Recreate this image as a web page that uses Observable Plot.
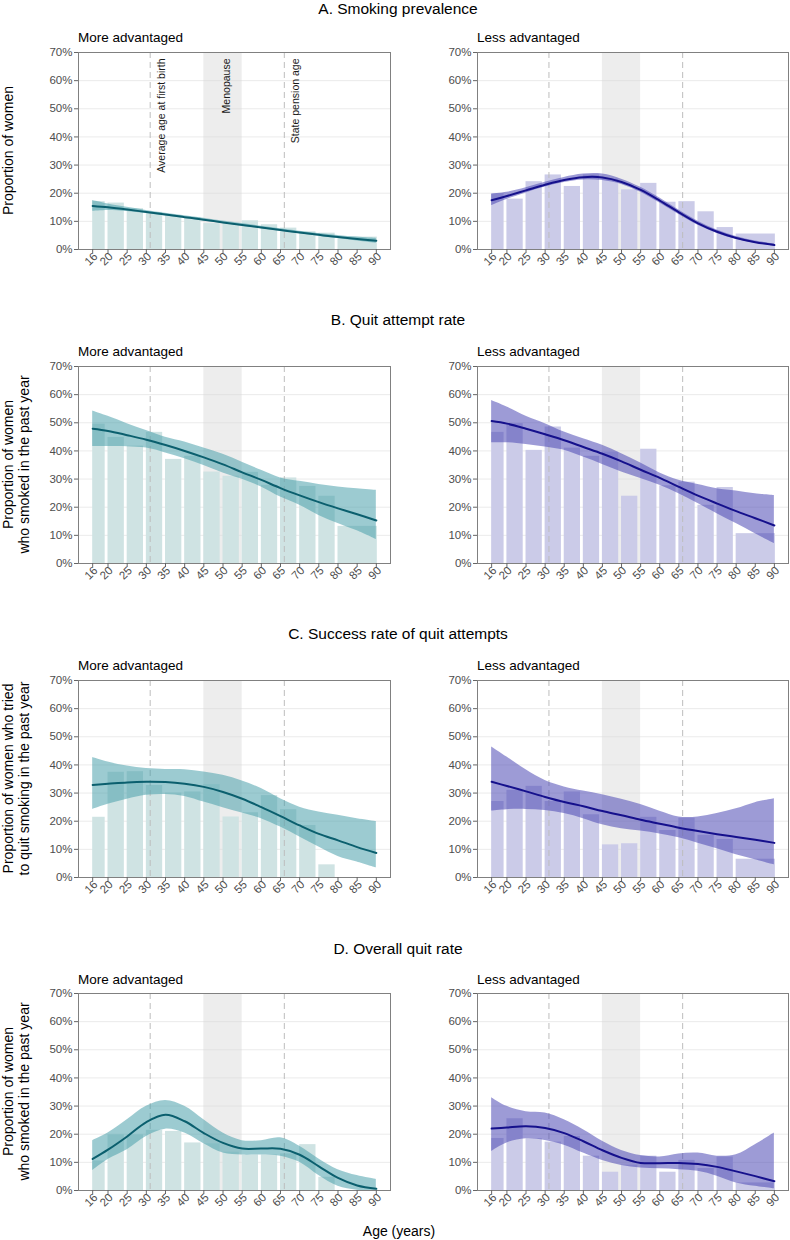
<!DOCTYPE html>
<html><head><meta charset="utf-8">
<script src="https://cdn.jsdelivr.net/npm/d3@7"></script>
<script src="https://cdn.jsdelivr.net/npm/@observablehq/plot@0.6"></script>
<style>
body{margin:0;background:#fff;}
#root{position:relative;width:790px;height:1240px;overflow:hidden;font-family:"Liberation Sans",Arial,sans-serif;}
.panel{position:absolute;}
#overlay{position:absolute;left:0;top:0;pointer-events:none;}
</style></head><body><div id="root"></div>
<script>
// ---------- categories / ticks ----------
const ages = [16,20,25,30,35,40,45,50,55,60,65,70,75,80,85,90];
const ageLo = [16,20,25,30,35,40,45,50,55,60,65,70,75,80];
const ageHi = [19,24,29,34,39,44,49,54,59,64,69,74,79,90];
const yTicks = [0,10,20,30,40,50,60,70];
const keyAges = [31,66];
const keyLabels = ["Average age at first birth","State pension age"];
const menopause = [45,55];
const menopauseLabel = "Menopause";
const groups = ["More advantaged","Less advantaged"];
const panelTitles = ["A. Smoking prevalence","B. Quit attempt rate","C. Success rate of quit attempts","D. Overall quit rate"];
const yTitles = [["Proportion of women"],["Proportion of women","who smoked in the past year"],["Proportion of women who tried","to quit smoking in the past year"],["Proportion of women","who smoked in the past year"]];
const xTitle = "Age (years)";

// ---------- A. Smoking prevalence ----------
const prevMoreBar = [17.0,16.5,14.5,13.2,12.0,11.4,9.2,9.2,10.2,8.8,7.6,6.3,5.8,4.4];
const prevMoreFit = [15.5,15.0,14.2,13.3,12.4,11.5,10.6,9.6,8.7,7.8,6.9,6.0,5.2,4.4,3.7,3.1];
const prevMoreLo  = [13.6,13.9,13.5,12.8,11.9,11.0,10.1,9.2,8.3,7.4,6.5,5.6,4.7,3.9,3.0,2.2];
const prevMoreHi  = [17.4,16.2,15.0,13.9,12.9,12.0,11.1,10.1,9.2,8.3,7.4,6.5,5.7,5.0,4.4,3.9];
const prevLessBar = [19.9,17.9,24.1,26.5,22.4,26.5,25.0,21.2,23.5,16.8,17.0,13.4,7.8,5.5];
const prevLessFit = [17.5,19.0,21.0,23.0,24.7,25.7,25.6,24.0,21.2,17.4,13.2,9.3,6.3,4.1,2.6,1.6];
const prevLessLo  = [15.6,17.8,20.1,22.2,23.8,24.7,24.5,23.1,20.3,16.5,12.4,8.6,5.7,3.6,2.2,1.2];
const prevLessHi  = [19.6,20.3,21.9,23.9,25.6,26.8,26.8,25.0,22.1,18.3,14.0,10.0,6.9,4.6,3.0,2.0];

// ---------- B. Quit attempt rate ----------
const attMoreBar = [49.5,44.8,41.7,46.6,37.0,38.1,32.5,31.0,32.4,27.8,30.4,27.4,23.9,13.2];
const attMoreFit = [47.9,47.1,45.6,44.0,42.1,40.0,37.7,35.2,32.4,29.7,26.8,24.2,21.8,19.6,17.5,15.3];
const attMoreLo  = [41.6,41.6,41.5,41.0,39.3,37.2,34.8,32.2,29.9,27.2,23.6,20.7,17.1,14.2,11.6,8.5];
const attMoreHi  = [54.2,52.3,49.7,47.3,44.9,43.2,41.0,38.8,36.0,33.1,30.4,29.2,28.1,27.2,26.6,26.0];
const attLessBar = [46.6,49.7,40.2,48.5,41.0,38.1,39.6,23.9,40.6,27.6,28.9,20.7,27.0,10.6];
const attLessFit = [50.6,49.7,47.9,45.9,43.8,41.4,39.0,36.3,33.3,30.4,27.2,24.1,21.3,18.6,16.1,13.5];
const attLessLo  = [42.9,42.9,42.3,41.4,40.2,37.8,35.2,32.5,30.2,27.8,24.8,21.3,17.7,14.2,10.6,7.1];
const attLessHi  = [57.9,55.6,52.3,49.7,46.7,44.3,42.0,39.0,35.7,32.2,29.6,28.1,26.6,25.8,24.8,24.2];

// ---------- C. Success rate of quit attempts ----------
const sucMoreBar = [21.4,37.4,37.6,32.7,30.0,30.4,33.0,21.5,23.0,29.1,24.1,18.5,4.5,0];
const sucMoreFit = [32.9,33.3,33.8,34.0,33.9,33.3,32.2,30.4,28.0,25.0,21.8,18.5,15.5,13.2,10.8,8.7];
const sucMoreLo  = [24.2,26.0,27.8,29.2,29.5,28.8,26.8,24.8,22.9,20.9,17.9,14.4,10.8,7.5,5.5,3.4];
const sucMoreHi  = [42.6,41.0,39.6,38.7,38.4,38.3,37.5,36.3,34.3,31.6,28.0,25.0,23.3,22.1,20.9,19.9];
const sucLessBar = [27.0,31.0,32.4,27.0,30.4,22.3,11.6,12.0,21.4,16.7,21.1,15.0,13.5,6.5];
const sucLessFit = [34.0,32.5,30.6,28.6,26.8,25.3,23.6,22.1,20.5,19.1,17.7,16.5,15.4,14.4,13.4,12.3];
const sucLessLo  = [23.6,24.1,24.2,23.8,22.7,20.9,18.7,17.3,16.5,15.5,14.1,12.2,10.2,8.1,6.3,4.5];
const sucLessHi  = [46.4,42.8,38.3,34.5,32.2,30.7,29.4,27.8,25.9,23.5,21.5,21.5,22.7,24.4,26.6,28.0];

// ---------- D. Overall quit rate ----------
const quitMoreBar = [10.5,19.8,19.8,21.4,21.0,16.9,16.6,13.6,12.6,12.6,13.0,16.3,4.7,0];
const quitMoreFit = [11.2,14.5,19.2,24.3,26.9,24.6,20.4,16.9,14.9,14.9,14.8,12.7,8.6,4.5,1.8,0.6];
const quitMoreLo  = [7.1,11.0,14.5,19.2,21.8,20.4,16.6,13.3,12.6,12.6,12.2,10.0,5.3,1.5,0.1,0.0];
const quitMoreHi  = [17.7,20.4,25.1,29.9,32.0,29.9,25.1,20.4,17.7,17.7,18.7,15.7,11.2,7.4,5.3,3.9];
const quitLessBar = [18.5,25.5,18.4,17.2,19.2,12.2,6.5,9.0,12.2,6.5,10.7,7.8,11.9,2.7];
const quitLessFit = [22.0,22.4,22.8,22.2,20.4,17.5,14.3,11.6,9.8,9.7,9.8,9.4,8.4,6.8,5.1,3.3];
const quitLessLo  = [13.9,16.9,18.4,17.8,16.1,13.3,10.7,8.9,8.0,7.7,7.4,6.8,5.1,2.7,1.5,0.6];
const quitLessHi  = [33.0,29.9,28.0,27.5,25.1,21.6,17.5,14.2,12.4,11.9,13.0,13.3,12.2,12.7,16.3,20.4];

// ---------- styling ----------
const FONT = '"Liberation Sans", Arial, sans-serif';
const pal = {
  left:  {bar:"#cfe3e3", ribbon:"#489faa", line:"#0b5f6e"},
  right: {bar:"#cbcbe8", ribbon:"#4a46b3", line:"#15108c"}
};
const rows = [
  {more:[prevMoreBar,prevMoreFit,prevMoreLo,prevMoreHi], less:[prevLessBar,prevLessFit,prevLessLo,prevLessHi]},
  {more:[attMoreBar,attMoreFit,attMoreLo,attMoreHi], less:[attLessBar,attLessFit,attLessLo,attLessHi]},
  {more:[sucMoreBar,sucMoreFit,sucMoreLo,sucMoreHi], less:[sucLessBar,sucLessFit,sucLessLo,sucLessHi]},
  {more:[quitMoreBar,quitMoreFit,quitMoreLo,quitMoreHi], less:[quitLessBar,quitLessFit,quitLessLo,quitLessHi]}
];
const plotTop = [52, 366, 680, 993];
const PH = 197, MT = 6, MB = 34, W = 395;

function panel([bars, fit, lo, hi], side, notes) {
  const p = pal[side];
  const barData = ageLo.map((a,i)=>({lo:a, hi:ageHi[i], v:bars[i]}));
  const fitData = ages.map((a,i)=>({age:a, fit:fit[i], lo:lo[i], hi:hi[i]}));
  const marks = [
    Plot.gridY(yTicks, {stroke:"#ebebeb", strokeOpacity:1}),
    Plot.rect([menopause], {x1:d=>d[0], x2:d=>d[1], fill:"#d6d6d6", fillOpacity:0.45}),
    Plot.rect(barData, {x1:"lo", x2:"hi", y1:0, y2:"v", fill:p.bar, insetRight:-1}),
    Plot.ruleX(keyAges, {stroke:"#bdbdbd", strokeDasharray:"6,4"}),
    Plot.areaY(fitData, {x:"age", y1:"lo", y2:"hi", fill:p.ribbon, fillOpacity:0.54, curve:"catmull-rom"}),
    Plot.line(fitData, {x:"age", y:"fit", stroke:p.line, strokeWidth:2, curve:"catmull-rom"}),
    Plot.frame({stroke:"#808080"}),
    // tick marks
    Plot.axisX({ticks:ages, tickSize:4, tickFormat:()=>"", stroke:"#666", label:null}),
    // rotated tick labels
    Plot.axisX({ticks:ages, tickSize:0, tickPadding:5, tickRotate:-45, dx:3, tickFormat:d=>String(d), fill:"#4d4d4d", fontSize:11.5, label:null}),
    Plot.axisY({ticks:yTicks, tickSize:4, tickPadding:2, tickFormat:d=>d+"%", fill:"#4d4d4d", stroke:"#666", fontSize:11.5, label:null})
  ];
  if (notes) {
    const lineNotes = keyAges.map((a,i)=>({age:a, label:keyLabels[i]}));
    marks.push(Plot.text(lineNotes, {x:"age", text:"label", frameAnchor:"top", rotate:-90, textAnchor:"end", dx:7, dy:6, fill:"#1a1a1a", fontSize:10.5}));
    marks.push(Plot.text([{age:(menopause[0]+menopause[1])/2, label:menopauseLabel}], {x:"age", text:"label", frameAnchor:"top", rotate:-90, textAnchor:"end", dy:6, fill:"#1a1a1a", fontSize:10.5}));
  }
  return Plot.plot({
    width: W, height: MT + PH + MB,
    marginTop: MT, marginBottom: MB,
    marginLeft: side === "left" ? 78 : 82,
    marginRight: side === "left" ? 5 : 2,
    x: {domain:[12.3, 93.7], label:null},
    y: {domain:[0, 70], label:null},
    style: {fontFamily: FONT, fontSize:"11px", background:"none", overflow:"visible"},
    marks
  });
}

const root = document.getElementById("root");
rows.forEach((r, i) => {
  ["left","right"].forEach(side => {
    const div = document.createElement("div");
    div.className = "panel";
    div.style.left = (side === "left" ? 0 : 395) + "px";
    div.style.top = (plotTop[i] - MT) + "px";
    div.appendChild(panel(side === "left" ? r.more : r.less, side, i === 0 && side === "left"));
    root.appendChild(div);
  });
});

// ---------- text overlay ----------
const svg = d3.select(root).append("svg").attr("id","overlay").attr("width",790).attr("height",1240)
  .style("font-family", FONT);
const titleBase = [13.5, 325, 639, 954];
const subBase = [41.5, 356, 670, 984];
panelTitles.forEach((t,i) => {
  svg.append("text").attr("x",398).attr("y",titleBase[i]).attr("text-anchor","middle")
    .attr("font-size",15.5).attr("fill","#000").text(t);
  svg.append("text").attr("x",78).attr("y",subBase[i]).attr("font-size",13.5).attr("fill","#000").text(groups[0]);
  svg.append("text").attr("x",477).attr("y",subBase[i]).attr("font-size",13.5).attr("fill","#000").text(groups[1]);
  const cy = plotTop[i] + PH/2;
  const lines = yTitles[i];
  lines.forEach((ln, j) => {
    const bx = lines.length === 1 ? 12.5 : 12.5 + j*16.2;
    svg.append("text").attr("transform",`translate(${bx},${cy}) rotate(-90)`)
      .attr("text-anchor","middle").attr("font-size",14).attr("fill","#000").text(ln);
  });
});
svg.append("text").attr("x",399).attr("y",1235.5).attr("text-anchor","middle")
  .attr("font-size",14).attr("fill","#000").text(xTitle);
</script>
</body></html>
